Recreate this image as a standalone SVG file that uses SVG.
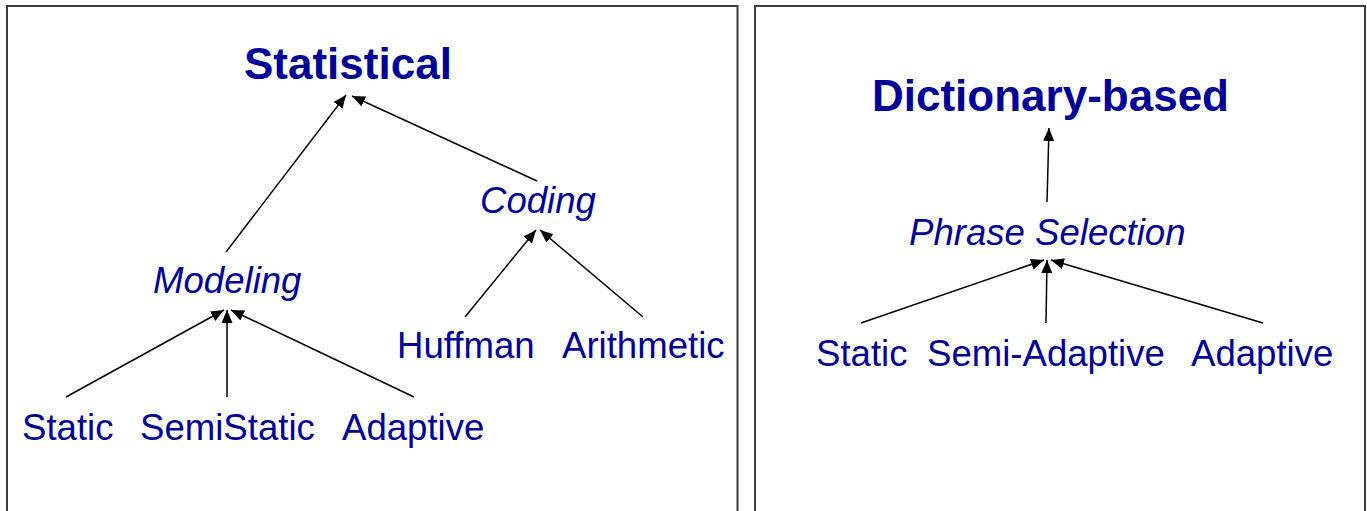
<svg xmlns="http://www.w3.org/2000/svg" width="1367" height="511" viewBox="0 0 1367 511">
  <style>
    .frame { fill: none; stroke: #3c3c3c; stroke-width: 2; }
    .title { font-family: "Liberation Sans", Arial, sans-serif; font-weight: bold; font-size: 44px; fill: #000099; }
    .mid { font-family: "Liberation Sans", Arial, sans-serif; font-style: italic; font-size: 36.6px; fill: #000099; }
    .leaf { font-family: "Liberation Sans", Arial, sans-serif; font-size: 36.6px; fill: #000099; }
    .edge { stroke: #000; stroke-width: 1.5; fill: none; marker-end: url(#arrow); }
  </style>
  <defs>
    <marker id="arrow" markerUnits="userSpaceOnUse" markerWidth="15" markerHeight="12" refX="13" refY="5.5" orient="auto">
      <path d="M0,0 L13,5.5 L0,11 Z" fill="#000"/>
    </marker>
  </defs>
  <rect width="1367" height="511" fill="#fff"/>

  <!-- panel frames -->
  <rect class="frame" x="7" y="6" width="730.5" height="530"/>
  <rect class="frame" x="755" y="6" width="610" height="530"/>

  <!-- connectors -->
  <g id="connectors">
    <line class="edge" x1="226" y1="252" x2="346" y2="95"/>
    <line class="edge" x1="537" y1="181" x2="352" y2="96"/>
    <line class="edge" x1="66" y1="397" x2="224" y2="310"/>
    <line class="edge" x1="227" y1="397" x2="227" y2="310"/>
    <line class="edge" x1="414" y1="397" x2="231" y2="310"/>
    <line class="edge" x1="465" y1="317" x2="536" y2="230"/>
    <line class="edge" x1="643" y1="317" x2="540" y2="230"/>
    <line class="edge" x1="1047" y1="202" x2="1049" y2="128"/>
    <line class="edge" x1="861" y1="323" x2="1044" y2="260"/>
    <line class="edge" x1="1046" y1="323" x2="1047" y2="260"/>
    <line class="edge" x1="1263" y1="323" x2="1051" y2="260"/>
  </g>

  <!-- statistical tree -->
  <g id="statistical"><text class="title" x="244" y="79">Statistical</text></g>
  <g id="modeling"><text class="mid" x="153" y="293">Modeling</text></g>
  <g id="coding"><text class="mid" x="480" y="213">Coding</text></g>
  <g id="static-l"><text class="leaf" x="22" y="440">Static</text></g>
  <g id="semistatic"><text class="leaf" x="140" y="440">SemiStatic</text></g>
  <g id="adaptive-l"><text class="leaf" x="342" y="440">Adaptive</text></g>
  <g id="huffman"><text class="leaf" x="397" y="358">Huffman</text></g>
  <g id="arithmetic"><text class="leaf" x="562" y="358">Arithmetic</text></g>

  <!-- dictionary tree -->
  <g id="dictionary"><text class="title" x="872" y="111">Dictionary-based</text></g>
  <g id="phrase"><text class="mid" x="909" y="245">Phrase Selection</text></g>
  <g id="static-r"><text class="leaf" x="816" y="366">Static</text></g>
  <g id="semiadaptive"><text class="leaf" x="927" y="366">Semi-Adaptive</text></g>
  <g id="adaptive-r"><text class="leaf" x="1191" y="366">Adaptive</text></g>
</svg>
